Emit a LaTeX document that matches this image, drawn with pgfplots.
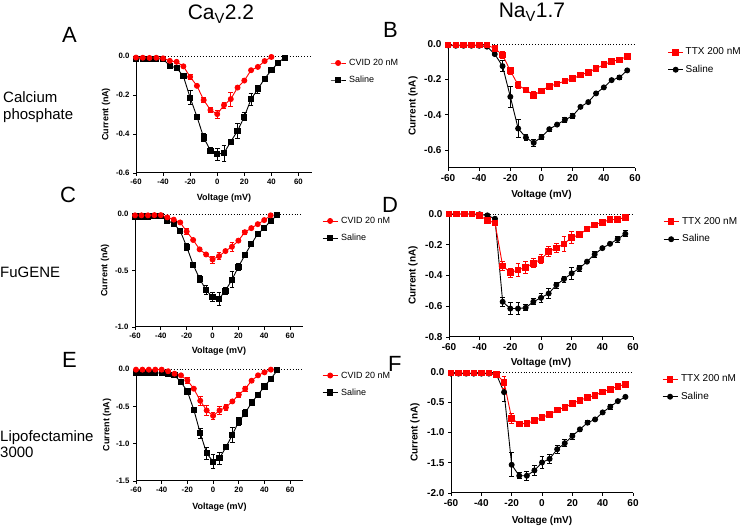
\documentclass[border=0pt]{standalone}
\usepackage{pgfplots}
\pgfplotsset{compat=1.18}
\usepackage{fontspec}
\setmainfont{Liberation Sans}
\definecolor{gpred}{RGB}{255,0,0}
\pgfplotsset{
  errs/.style={error bars/.cd, y dir=both, y explicit,
    error bar style={line width=0.8pt,#1},
    error mark options={rotate=90,mark size=2.4pt,line width=0.8pt,#1}},
  gp/.style={scale only axis, clip=false,
    axis x line*=bottom, axis y line*=left,
    tick align=outside, major tick length=3pt,
    axis line style={line width=1pt},
    every tick/.style={black, line width=0.8pt},
    xtick={-60,-40,...,60},
    /pgf/number format/assume math mode=true,
    yticklabel style={/pgf/number format/.cd, fixed, fixed zerofill, precision=1},
    xlabel={Voltage (mV)}, ylabel={Current (nA)},
    legend cell align=left, reverse legend,
    legend image code/.code={\draw[mark repeat=2,mark phase=2,##1] plot coordinates {(0pt,0pt)(7.5pt,0pt)(15pt,0pt)};},
    legend style={draw=none, fill=none, inner sep=0pt, column sep=3pt, anchor=west},
  },
  lp/.style={gp, xmin=-60, xmax=70,
    tick label style={font=\fontsize{7.8}{9}\selectfont\bfseries},
    label style={font=\fontsize{9}{10}\selectfont\bfseries},
    legend style={font=\fontsize{9}{10}\selectfont, row sep=8pt, nodes={inner sep=0pt, text height=7pt, text depth=2pt}}},
  rp/.style={gp, xmin=-60, xmax=60,
    tick label style={font=\fontsize{10}{11}\selectfont\bfseries},
    label style={font=\fontsize{10}{11}\selectfont\bfseries},
    legend style={font=\fontsize{10}{12}\selectfont, row sep=7pt, nodes={inner sep=0pt, text height=8pt, text depth=2.5pt}}},
  blk/.style={black, line width=0.9pt, mark options={solid}},
  rd/.style={gpred, line width=0.9pt, mark options={solid}},
  zl/.style={black, line width=0.8pt, dash pattern=on 0.9pt off 2pt, forget plot},
}
\begin{document}
\begin{tikzpicture}
\path[use as bounding box] (0pt,0pt) rectangle (740pt,526pt);
% titles
\node[anchor=base, font=\fontsize{21}{24}\selectfont] at (221pt,506pt) {Ca\textsubscript{V}2.2};
\node[anchor=base, font=\fontsize{21}{24}\selectfont] at (532pt,508pt) {Na\textsubscript{V}1.7};
% panel letters
\node[anchor=base west, inner sep=0pt, font=\fontsize{22}{24}\selectfont] at (62pt,483pt) {A};
\node[anchor=base west, inner sep=0pt, font=\fontsize{22}{24}\selectfont] at (383pt,488pt) {B};
\node[anchor=base west, inner sep=0pt, font=\fontsize{22}{24}\selectfont] at (60pt,323pt) {C};
\node[anchor=base west, inner sep=0pt, font=\fontsize{22}{24}\selectfont] at (382pt,313pt) {D};
\node[anchor=base west, inner sep=0pt, font=\fontsize{22}{24}\selectfont] at (62pt,158pt) {E};
\node[anchor=base west, inner sep=0pt, font=\fontsize{22}{24}\selectfont] at (388pt,154pt) {F};
% row labels
\node[anchor=base west, inner sep=0pt, font=\fontsize{15}{17}\selectfont] at (3pt,423pt) {Calcium};
\node[anchor=base west, inner sep=0pt, font=\fontsize{15}{17}\selectfont] at (3pt,406pt) {phosphate};
\node[anchor=base west, inner sep=0pt, font=\fontsize{15}{17}\selectfont] at (0pt,248pt) {FuGENE};
\node[anchor=base west, inner sep=0pt, font=\fontsize{15}{17}\selectfont] at (0pt,84pt) {Lipofectamine};
\node[anchor=base west, inner sep=0pt, font=\fontsize{15}{17}\selectfont] at (0pt,68pt) {3000};

% ---------- A ----------
\begin{axis}[lp, at={(136pt,353pt)}, anchor=south west, width=176pt, height=117pt,
  ymin=-0.6, ymax=0, ytick={-0.6,-0.4,-0.2,0},
  xlabel style={at={(axis description cs:0.5,-0.214)}, anchor=center},
  ylabel style={at={(axis description cs:-0.170,0.5)}, anchor=center},
  legend style={at={(1.102,0.8675)}}]
\addplot[zl] coordinates {(-60,0) (70,0)};
\addplot[blk, mark=square*, mark size=2.6pt, errs=black] coordinates {
(-60,-0.014) (-55,-0.015) (-50,-0.015) (-45,-0.014) (-40,-0.015) (-35,-0.051) (-30,-0.061) (-25,-0.104)
(-20,-0.214) +- (0,0.035) (-15,-0.311) (-10,-0.418) +- (0,0.02) (-5,-0.486) +- (0,0.015) (0,-0.503) +- (0,0.03)
(5,-0.498) +- (0,0.04) (10,-0.439) (15,-0.384) +- (0,0.04) (20,-0.311) +- (0,0.02) (25,-0.221) +- (0,0.03)
(30,-0.170) +- (0,0.02) (35,-0.116) (40,-0.073) (45,-0.034) (50,-0.008)};
\addlegendentry{Saline}
\addplot[rd, mark=*, mark size=2.5pt, errs=gpred] coordinates {
(-60,-0.008) (-55,-0.009) (-50,-0.01) (-45,-0.009) (-40,-0.012) (-35,-0.025) (-30,-0.03) (-25,-0.053)
(-20,-0.107) +- (0,0.015) (-15,-0.153) (-10,-0.226) +- (0,0.012) (-5,-0.277) +- (0,0.012) (0,-0.298) +- (0,0.02)
(5,-0.252) +- (0,0.015) (10,-0.221) +- (0,0.035) (15,-0.162) (20,-0.126) (25,-0.073) (30,-0.056) (35,-0.026) (40,-0.005)};
\addlegendentry{CVID 20 nM}
\end{axis}

% ---------- B ----------
\begin{axis}[rp, at={(448pt,358pt)}, anchor=south west, width=187pt, height=124pt,
  ymin=-0.7, ymax=0, ytick={-0.6,-0.4,-0.2,0},
  xlabel style={at={(axis description cs:0.5,-0.218)}, anchor=center},
  ylabel style={at={(axis description cs:-0.187,0.5)}, anchor=center},
  legend style={at={(1.174,0.863)}, column sep=2pt}]
\addplot[zl] coordinates {(-60,0) (60,0)};
\addplot[blk, mark=*, mark size=2.5pt, errs=black] coordinates {
(-60,-0.008) (-55,-0.01) (-50,-0.01) (-45,-0.01) (-40,-0.01) (-35,-0.015) (-30,-0.057) (-25,-0.125) +- (0,0.03)
(-20,-0.298) +- (0,0.06) (-15,-0.477) +- (0,0.05) (-10,-0.528) +- (0,0.015) (-5,-0.558) +- (0,0.02) (0,-0.525) +- (0,0.015)
(5,-0.481) +- (0,0.01) (10,-0.455) (15,-0.428) +- (0,0.012) (20,-0.406) +- (0,0.015) (25,-0.355) (30,-0.328)
(35,-0.279) (40,-0.245) (45,-0.204) (50,-0.189) +- (0,0.01) (55,-0.149)};
\addlegendentry{Saline}
\addplot[rd, mark=square*, mark size=2.8pt, errs=gpred] coordinates {
(-60,-0.006) (-55,-0.006) (-50,-0.006) (-45,-0.006) (-40,-0.006) (-35,-0.006) (-30,-0.025) (-25,-0.062) +- (0,0.02)
(-20,-0.151) +- (0,0.02) (-15,-0.232) +- (0,0.02) (-10,-0.26) (-5,-0.289) +- (0,0.02) (0,-0.264) (5,-0.238) (10,-0.225)
(15,-0.209) (20,-0.196) (25,-0.175) (30,-0.160) (35,-0.138) (40,-0.117) (45,-0.098) (50,-0.089) (55,-0.070)};
\addlegendentry{TTX 200 nM}
\end{axis}

% ---------- C ----------
\begin{axis}[lp, at={(135pt,199pt)}, anchor=south west, width=168pt, height=113pt,
  ymin=-1, ymax=0, ytick={-1,-0.5,0},
  xlabel style={at={(axis description cs:0.5,-0.212)}, anchor=center},
  ylabel style={at={(axis description cs:-0.179,0.5)}, anchor=center},
  legend style={at={(1.113,0.863)}}]
\addplot[zl] coordinates {(-60,0) (70,0)};
\addplot[blk, mark=square*, mark size=2.6pt, errs=black] coordinates {
(-60,-0.021) (-55,-0.021) (-50,-0.021) (-45,-0.02) (-40,-0.02) (-35,-0.057) (-30,-0.087) (-25,-0.149)
(-20,-0.29) +- (0,0.03) (-15,-0.448) (-10,-0.573) +- (0,0.03) (-5,-0.672) +- (0,0.04) (0,-0.737) +- (0,0.04)
(5,-0.752) +- (0,0.06) (10,-0.678) +- (0,0.03) (15,-0.582) +- (0,0.07) (20,-0.469) +- (0,0.03) (25,-0.364)
(30,-0.266) +- (0,0.02) (35,-0.176) (40,-0.125) (45,-0.06) (50,-0.012)};
\addlegendentry{Saline}
\addplot[rd, mark=*, mark size=2.5pt, errs=gpred] coordinates {
(-60,-0.012) (-55,-0.012) (-50,-0.012) (-45,-0.01) (-40,-0.01) (-35,-0.03) (-30,-0.05) (-25,-0.075)
(-20,-0.155) +- (0,0.03) (-15,-0.23) (-10,-0.313) (-5,-0.358) (0,-0.403) +- (0,0.03) (5,-0.373) +- (0,0.03)
(10,-0.328) (15,-0.29) +- (0,0.04) (20,-0.236) (25,-0.161) +- (0,0.02) (30,-0.125) (35,-0.09) (40,-0.054) (45,-0.012)};
\addlegendentry{CVID 20 nM}
\end{axis}

% ---------- D ----------
\begin{axis}[rp, at={(449pt,189pt)}, anchor=south west, width=184pt, height=123pt,
  ymin=-0.8, ymax=0, ytick={-0.8,-0.6,-0.4,-0.2,0},
  xlabel style={at={(axis description cs:0.5,-0.211)}, anchor=center},
  ylabel style={at={(axis description cs:-0.196,0.5)}, anchor=center},
  legend style={at={(1.163,0.866)}}]
\addplot[zl] coordinates {(-60,0) (60,0)};
\addplot[blk, mark=*, mark size=2.5pt, errs=black] coordinates {
(-60,0) (-55,0) (-50,0) (-45,0) (-40,-0.002) (-35,-0.009) (-30,-0.031) (-25,-0.571) +- (0,0.03)
(-20,-0.615) +- (0,0.04) (-15,-0.615) +- (0,0.04) (-10,-0.61) +- (0,0.02) (-5,-0.571) +- (0,0.02) (0,-0.545) +- (0,0.03)
(5,-0.517) +- (0,0.03) (10,-0.462) +- (0,0.02) (15,-0.423) +- (0,0.02) (20,-0.386) +- (0,0.04) (25,-0.353) +- (0,0.02)
(30,-0.31) (35,-0.262) +- (0,0.02) (40,-0.222) (45,-0.194) (50,-0.163) +- (0,0.02) (55,-0.129) +- (0,0.02)};
\addlegendentry{Saline}
\addplot[rd, mark=square*, mark size=2.8pt, errs=gpred] coordinates {
(-60,0) (-55,0) (-50,0) (-45,0) (-40,-0.011) (-35,-0.041) (-30,-0.059) (-25,-0.338) +- (0,0.03)
(-20,-0.381) +- (0,0.03) (-15,-0.364) +- (0,0.04) (-10,-0.347) +- (0,0.04) (-5,-0.32) +- (0,0.03) (0,-0.294) +- (0,0.03)
(5,-0.244) +- (0,0.03) (10,-0.222) +- (0,0.03) (15,-0.194) +- (0,0.05) (20,-0.153) +- (0,0.04) (25,-0.135) +- (0,0.02)
(30,-0.098) (35,-0.07) (40,-0.054) (45,-0.037) (50,-0.035) (55,-0.022)};
\addlegendentry{TTX 200 nM}
\end{axis}

% ---------- E ----------
\begin{axis}[lp, at={(136pt,45pt)}, anchor=south west, width=167pt, height=112pt,
  ymin=-1.5, ymax=0, ytick={-1.5,-1,-0.5,0},
  xlabel style={at={(axis description cs:0.5,-0.232)}, anchor=center},
  ylabel style={at={(axis description cs:-0.174,0.5)}, anchor=center},
  legend style={at={(1.114,0.866)}}]
\addplot[zl] coordinates {(-60,0) (70,0)};
\addplot[blk, mark=square*, mark size=2.6pt, errs=black] coordinates {
(-60,-0.054) (-55,-0.054) (-50,-0.05) (-45,-0.054) (-40,-0.054) (-35,-0.067) (-30,-0.085) (-25,-0.175)
(-20,-0.3) +- (0,0.04) (-15,-0.546) (-10,-0.859) +- (0,0.07) (-5,-1.128) +- (0,0.08) (0,-1.24) +- (0,0.09)
(5,-1.195) +- (0,0.08) (10,-1.048) +- (0,0.03) (15,-0.882) +- (0,0.1) (20,-0.703) +- (0,0.05) (25,-0.591) +- (0,0.05)
(30,-0.448) (35,-0.345) (40,-0.233) (45,-0.13) (50,-0.018)};
\addlegendentry{Saline}
\addplot[rd, mark=*, mark size=2.5pt, errs=gpred] coordinates {
(-60,-0.009) (-55,-0.009) (-50,-0.009) (-45,-0.009) (-40,-0.009) (-35,-0.03) (-30,-0.063) (-25,-0.085)
(-20,-0.152) +- (0,0.04) (-15,-0.264) (-10,-0.425) +- (0,0.06) (-5,-0.555) +- (0,0.07) (0,-0.627) +- (0,0.05)
(5,-0.555) +- (0,0.05) (10,-0.515) +- (0,0.04) (15,-0.434) (20,-0.345) +- (0,0.03) (25,-0.264) +- (0,0.03)
(30,-0.157) (35,-0.085) (40,-0.045) (45,-0.009)};
\addlegendentry{CVID 20 nM}
\end{axis}

% ---------- F ----------
\begin{axis}[rp, at={(451pt,33pt)}, anchor=south west, width=182pt, height=121pt,
  ymin=-2, ymax=0, ytick={-2,-1.5,-1,-0.5,0},
  xlabel style={at={(axis description cs:0.5,-0.231)}, anchor=center},
  ylabel style={at={(axis description cs:-0.198,0.5)}, anchor=center},
  legend style={at={(1.159,0.868)}}]
\addplot[zl] coordinates {(-60,0) (60,0)};
\addplot[blk, mark=*, mark size=2.5pt, errs=black] coordinates {
(-60,-0.027) (-55,-0.027) (-50,-0.027) (-45,-0.027) (-40,-0.027) (-35,-0.027) (-30,-0.044) (-25,-0.334) +- (0,0.15)
(-20,-1.534) +- (0,0.2) (-15,-1.715) +- (0,0.05) (-10,-1.715) +- (0,0.08) (-5,-1.627) +- (0,0.08) (0,-1.496) +- (0,0.1)
(5,-1.436) +- (0,0.07) (10,-1.277) +- (0,0.07) (15,-1.178) +- (0,0.06) (20,-1.058) +- (0,0.05) (25,-0.948) +- (0,0.03)
(30,-0.838) +- (0,0.03) (35,-0.784) (40,-0.668) (45,-0.575) +- (0,0.04) (50,-0.482) (55,-0.411)};
\addlegendentry{Saline}
\addplot[rd, mark=square*, mark size=2.8pt, errs=gpred] coordinates {
(-60,-0.016) (-55,-0.016) (-50,-0.016) (-45,-0.016) (-40,-0.016) (-35,-0.016) (-30,-0.038) (-25,-0.17) +- (0,0.1)
(-20,-0.767) +- (0,0.08) (-15,-0.86) (-10,-0.849) +- (0,0.05) (-5,-0.805) +- (0,0.05) (0,-0.751) +- (0,0.05)
(5,-0.701) +- (0,0.04) (10,-0.63) +- (0,0.04) (15,-0.586) +- (0,0.03) (20,-0.521) (25,-0.466) (30,-0.422)
(35,-0.384) (40,-0.329) (45,-0.285) (50,-0.236) (55,-0.203)};
\addlegendentry{TTX 200 nM}
\end{axis}
\end{tikzpicture}
\end{document}
